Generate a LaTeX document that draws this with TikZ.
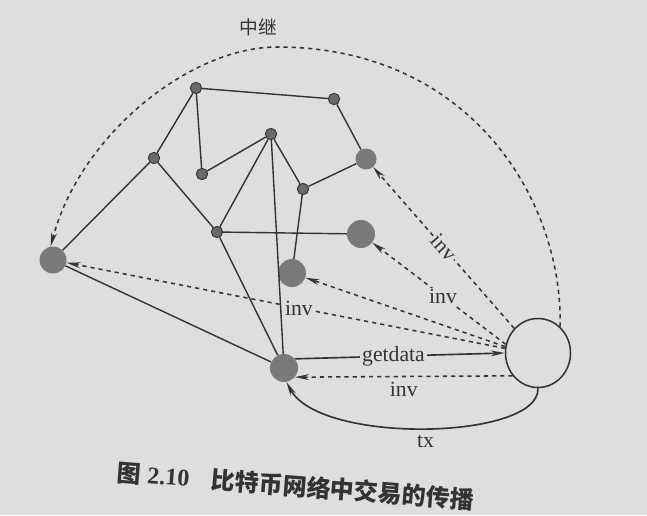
\documentclass[tikz,border=0pt]{standalone}
\usepackage{fontspec}
\setmainfont{Liberation Serif}
\newfontfamily\cjk{Noto Sans CJK SC}
\usetikzlibrary{arrows.meta,shapes.geometric}
\definecolor{paper}{HTML}{DEDEDC}
\definecolor{ink}{HTML}{333333}
\definecolor{dot}{HTML}{6A6A6A}
\definecolor{blob}{HTML}{7A7A7A}

\begin{document}
\begin{tikzpicture}[x=0.03cm,y=-0.03cm,
  small/.style={circle,fill=dot,draw=ink,line width=0.8pt,inner sep=0pt,minimum size=0.34cm},
  big/.style={circle,fill=blob,inner sep=0pt},
  link/.style={ink,line width=1.2pt},
  tip/.style={-{Stealth[length=12pt,width=5pt]}},
  invline/.style={ink,line width=1.3pt,dash pattern=on 3.6pt off 3.4pt,tip},
  lab/.style={text=ink,font=\fontsize{18.5}{20}\selectfont,inner sep=1.5pt}]
\fill[paper] (0,0) rectangle (647,515);
% peers
\foreach \n/\x/\y in {a/196/88,b/334/99,c/154/158,d/202/174,e/271/134,f/303/189,h/217/232}
  \node[small] (\n) at (\x,\y) {};
\foreach \n/\x/\y/\s in {g/366/159/0.63,i/361/234/0.84,k/292/273/0.84,l/284/368/0.84,j/53/260/0.81}
  \node[big,minimum size=\s cm] (\n) at (\x,\y) {};
\node[ellipse,draw=ink,line width=1.3pt,fill=paper,minimum width=1.95cm,minimum height=2.07cm] (src) at (538,353) {};
\foreach \p/\q in {a/b,a/c,a/d,b/g,c/j,c/h,d/e,e/h,e/l,e/f,f/g,f/k,h/i,h/l,j/l}
  \draw[link] (\p) -- (\q);
% announcements
\draw[invline] (src.134) -- node[lab,sloped,fill=paper,pos=0.5] {inv} (g);
\draw[invline] (src.165) -- node[lab,fill=paper,pos=0.47] {inv} (i);
\draw[invline] (src.169) -- (k);
\draw[invline] (src.172) -- node[lab,fill=paper,pos=0.47] {inv} (j);
\draw[invline] (src.222) -- node[lab,below=3pt] {inv} (l.-40);
\draw[link,line width=1.4pt,tip] (l.40) -- node[lab,fill=paper,pos=0.47] {getdata} (src.west);
\draw[link,line width=1.4pt,tip] (src.south) .. controls (540,440) and (320,445) .. node[lab,pos=0.5,below=4pt] {tx} (l.-80);
% relay
\coordinate (top) at (277,47);
\draw[invline] (src.50) .. controls (563,200) and (470,47) .. (top) .. controls (190,47) and (80,135) .. (j.100);
\node[text=ink,font=\cjk\fontsize{16}{18}\selectfont] (relay) at (258,27) {中继};
\node[text=ink,rotate=-4.5,font=\fontsize{20.5}{24}\selectfont\bfseries] (cap) at (296,486) {{\cjk 图} 2.10\hspace{0.9em}{\cjk 比特币网络中交易的传播}};
\end{tikzpicture}
\end{document}
